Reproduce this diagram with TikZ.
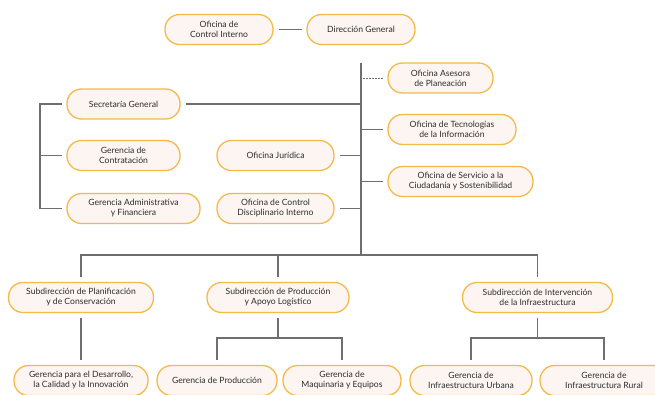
\documentclass[tikz,border=0pt]{standalone}
\usepackage{fontspec}
\setmainfont{Lato}
\definecolor{oro}{RGB}{243,186,72}
\definecolor{rosa}{RGB}{253,245,241}
\definecolor{linea}{RGB}{110,110,110}
\definecolor{letra}{RGB}{45,45,45}
\tikzset{
    caja/.style={draw=oro, fill=rosa, line width=1.3pt, rounded corners=14.5pt,
        minimum height=30pt, inner sep=2pt, outer sep=5.5pt, align=center,
        font=\fontsize{8.6}{10}\selectfont, text=letra},
    enlace/.style={draw=linea, line width=1.1pt},
    asesor/.style={draw=linea, line width=.6pt, dash pattern=on 1.5pt off 1.5pt}
}
\begin{document}
\begin{tikzpicture}[x=1pt, y=-1pt]
            \useasboundingbox (0,0) rectangle (655,394);
            \clip (0,0) rectangle (655,394);
            \node[caja, minimum width=108pt] (ci) at (219,29.5) {Oficina de\\Control Interno};
            \node[caja, minimum width=108pt] (dg) at (361,29.5) {Dirección General};
            \node[caja, minimum width=105pt] (oap) at (440.5,78) {Oficina Asesora\\de Planeación};
            \node[caja, minimum width=128pt] (oti) at (452,129.5) {Oficina de Tecnologías\\de la Información};
            \node[caja, minimum width=145pt] (osc) at (460.5,181.5) {Oficina de Servicio a la\\Ciudadanía y Sostenibilidad};
            \node[caja, minimum width=113pt] (sg) at (123.5,104) {Secretaría General};
            \node[caja, minimum width=113pt] (gc) at (123.5,155.5) {Gerencia de\\Contratación};
            \node[caja, minimum width=133pt] (gaf) at (133.5,208.5) {Gerencia Administrativa\\y Financiera};
            \node[caja, minimum width=117pt] (oj) at (275.5,155.5) {Oficina Jurídica};
            \node[caja, minimum width=117pt] (ocd) at (275.5,208.5) {Oficina de Control\\Disciplinario Interno};
            \node[caja, minimum width=145pt] (spc) at (81,297.5) {Subdirección de Planificación\\y de Conservación};
            \node[caja, minimum width=142pt] (spa) at (278,297.5) {Subdirección de Producción\\y Apoyo Logístico};
            \node[caja, minimum width=150pt] (sii) at (537.5,297.5) {Subdirección de Intervención\\de la Infraestructura};
            \node[caja, minimum width=134pt] (gdc) at (81,380.5) {Gerencia para el Desarrollo,\\la Calidad y la Innovación};
            \node[caja, minimum width=120pt] (gpr) at (217,380.5) {Gerencia de Producción};
            \node[caja, minimum width=118pt] (gmq) at (342,380.5) {Gerencia de\\Maquinaria y Equipos};
            \node[caja, minimum width=122pt] (giu) at (471,380.5) {Gerencia de\\Infraestructura Urbana};
            \node[caja, minimum width=128pt] (gir) at (604,380.5) {Gerencia de\\Infraestructura Rural};
            \coordinate (tope) at (361,63);
            \coordinate (bus) at (361,255);
            \coordinate (brk) at (40,104);
            \coordinate (ramaP) at (278,338);
            \coordinate (ramaI) at (537.5,338);
            \draw[enlace] (ci) -- (dg);
            \draw[enlace] (tope) -- (bus);
            \draw[asesor] (oap.west) -- (oap.west -| tope);
            \draw[enlace] (oti.west) -- (oti.west -| tope);
            \draw[enlace] (osc.west) -- (osc.west -| tope);
            \draw[enlace] (sg.east) -- (sg.east -| tope);
            \draw[enlace] (oj.east) -- (oj.east -| tope);
            \draw[enlace] (ocd.east) -- (ocd.east -| tope);
            \draw[enlace] (sg.west) -- (brk) |- (gaf.west);
            \draw[enlace] (gc.west) -- (gc.west -| brk);
            \draw[enlace] (spc.north) |- (bus) -| (sii.north);
            \draw[enlace] (spa.north) -- (spa.north |- bus);
            \draw[enlace] (spc.south) -- (gdc.north);
            \draw[enlace] (spa.south) -- (ramaP);
            \draw[enlace] (gpr.north) |- (ramaP) -| (gmq.north);
            \draw[enlace] (sii.south) -- (ramaI);
            \draw[enlace] (giu.north) |- (ramaI) -| (gir.north);
        \end{tikzpicture}
\end{document}
